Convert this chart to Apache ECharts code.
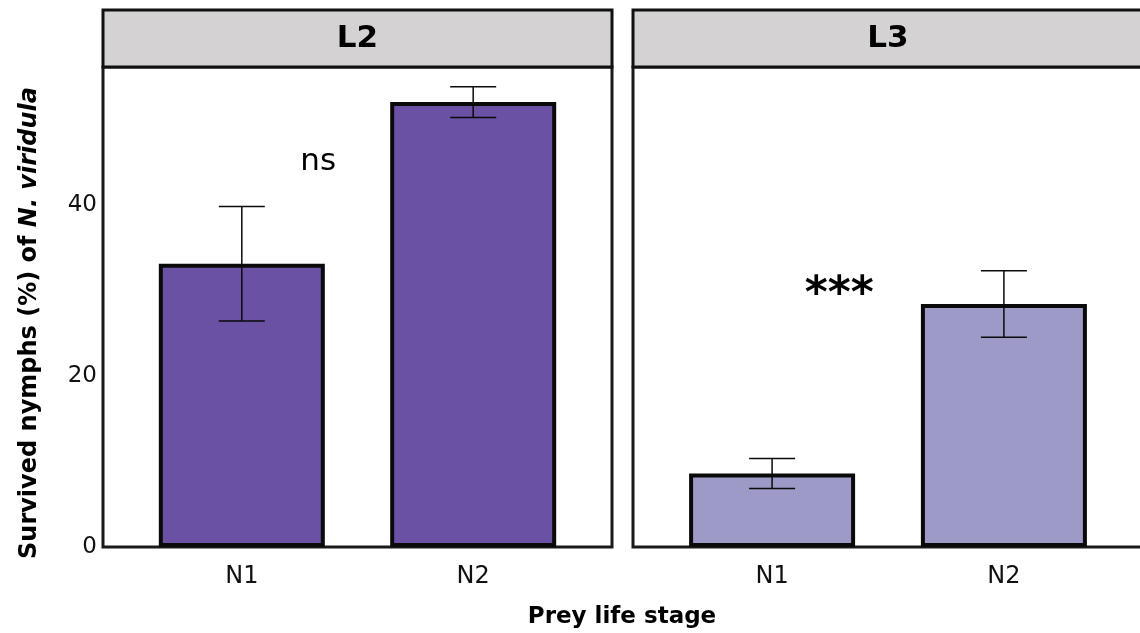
<!DOCTYPE html>
<html>
<head>
<meta charset="utf-8">
<script src="https://cdn.jsdelivr.net/npm/echarts@6/dist/echarts.min.js"></script>
<style>html,body{margin:0;padding:0;background:#fff}#c{width:1140px;height:633px}</style>
</head>
<body>
<div id="c"></div>
<script>
// ---- data ----
const panels = ['L2', 'L3'];
const categories = ['N1', 'N2'];
const meansL2 = [33.1, 52.0];
const seL2 = [6.7, 1.8];
const meansL3 = [8.6, 28.4];
const seL3 = [1.75, 3.9];
const annotations = ['ns', '***'];
const annotX = [1.33, 1.29];
const annotY = [45.0, 29.4];
const yTicks = [0, 20, 40];
const yMax = 56.1;

const FONT = 'DejaVu Sans';
const colors = ['#6a51a3', '#9e9ac8'];
const means = [meansL2, meansL3];
const ses = [seL2, seL3];

const chart = echarts.init(document.getElementById('c'), null, {renderer: 'canvas'});

const grids = [
  {left: 103, top: 67, width: 509, height: 480},
  {left: 633, top: 67, width: 510, height: 480}
];

const xAxes = grids.map((g, i) => ({
  type: 'value', gridIndex: i, min: 0.4, max: 2.6,
  axisLine: {show: false}, axisTick: {show: false}, splitLine: {show: false},
  axisLabel: {
    customValues: [1, 2],
    formatter: v => categories[Math.round(v) - 1] || '',
    fontFamily: FONT, fontSize: 24, color: '#111', margin: 18
  }
}));

const yAxes = grids.map((g, i) => ({
  type: 'value', gridIndex: i, min: 0, max: yMax, interval: 20,
  axisLine: {show: false}, axisTick: {show: false}, splitLine: {show: false},
  axisLabel: {
    show: i === 0, showMaxLabel: false,
    formatter: v => (yTicks.indexOf(v) >= 0 ? String(v) : ''),
    fontFamily: FONT, fontSize: 23, color: '#111', margin: 6
  }
}));

const series = [];
panels.forEach((p, i) => {
  series.push({
    type: 'bar', xAxisIndex: i, yAxisIndex: i,
    barWidth: 166,
    data: means[i].map((m, k) => [k + 1, m]),
    itemStyle: {color: colors[i], borderColor: '#0a0a0a', borderWidth: 4},
    z: 2, silent: true
  });
  series.push({
    type: 'custom', xAxisIndex: i, yAxisIndex: i, z: 5, silent: true,
    data: means[i].map((m, k) => [k + 1, m - ses[i][k], m + ses[i][k]]),
    renderItem: (params, api) => {
      const x = api.value(0);
      const lo = api.coord([x, api.value(1)]);
      const hi = api.coord([x, api.value(2)]);
      const half = 23;
      const st = {stroke: '#0a0a0a', lineWidth: 1.5};
      return {
        type: 'group',
        children: [
          {type: 'line', shape: {x1: lo[0], y1: lo[1], x2: hi[0], y2: hi[1]}, style: st},
          {type: 'line', shape: {x1: hi[0] - half, y1: hi[1], x2: hi[0] + half, y2: hi[1]}, style: st},
          {type: 'line', shape: {x1: lo[0] - half, y1: lo[1], x2: lo[0] + half, y2: lo[1]}, style: st}
        ]
      };
    }
  });
  series.push({
    type: 'scatter', xAxisIndex: i, yAxisIndex: i, symbolSize: 0, silent: true, z: 6,
    itemStyle: {opacity: 1},
    data: [[annotX[i], annotY[i]]],
    label: {
      show: true, position: 'inside', formatter: annotations[i],
      fontFamily: FONT, fontSize: i === 1 ? 44 : 31, color: '#000', opacity: 1,
      fontWeight: i === 1 ? 'bold' : 'normal'
    }
  });
});

const graphics = [];
grids.forEach((g, i) => {
  graphics.push({
    type: 'rect', z: 10,
    shape: {x: g.left, y: 10, width: g.width, height: 57},
    style: {fill: '#d4d2d3', stroke: '#111', lineWidth: 3}
  });
  graphics.push({
    type: 'text', z: 11,
    x: g.left + g.width / 2, y: 39,
    style: {text: panels[i], font: 'bold 31px "DejaVu Sans"', fill: '#000', align: 'center', verticalAlign: 'middle'}
  });
});
graphics.push({
  type: 'text', z: 11, x: 30, y: 323, rotation: Math.PI / 2,
  style: {
    text: '{a|Survived nymphs (%) of }{b|N. viridula}',
    align: 'center', verticalAlign: 'middle',
    rich: {
      a: {fontFamily: FONT, fontWeight: 'bold', fontSize: 24, fill: '#000', color: '#000'},
      b: {fontFamily: FONT, fontWeight: 'bold', fontStyle: 'italic', fontSize: 24, fill: '#000', color: '#000'}
    }
  }
});
graphics.push({
  type: 'text', z: 11, x: 622, y: 617,
  style: {text: 'Prey life stage', font: 'bold 23px "DejaVu Sans"', fill: '#000', align: 'center', verticalAlign: 'middle'}
});

chart.setOption({
  animation: false,
  backgroundColor: '#fff',
  grid: grids.map(g => Object.assign({
    show: true, borderColor: '#1a1a1a', borderWidth: 3, backgroundColor: '#fff',
    outerBoundsMode: 'none', containLabel: false
  }, g)),
  xAxis: xAxes,
  yAxis: yAxes,
  series: series,
  graphic: graphics
});
</script>
</body>
</html>
